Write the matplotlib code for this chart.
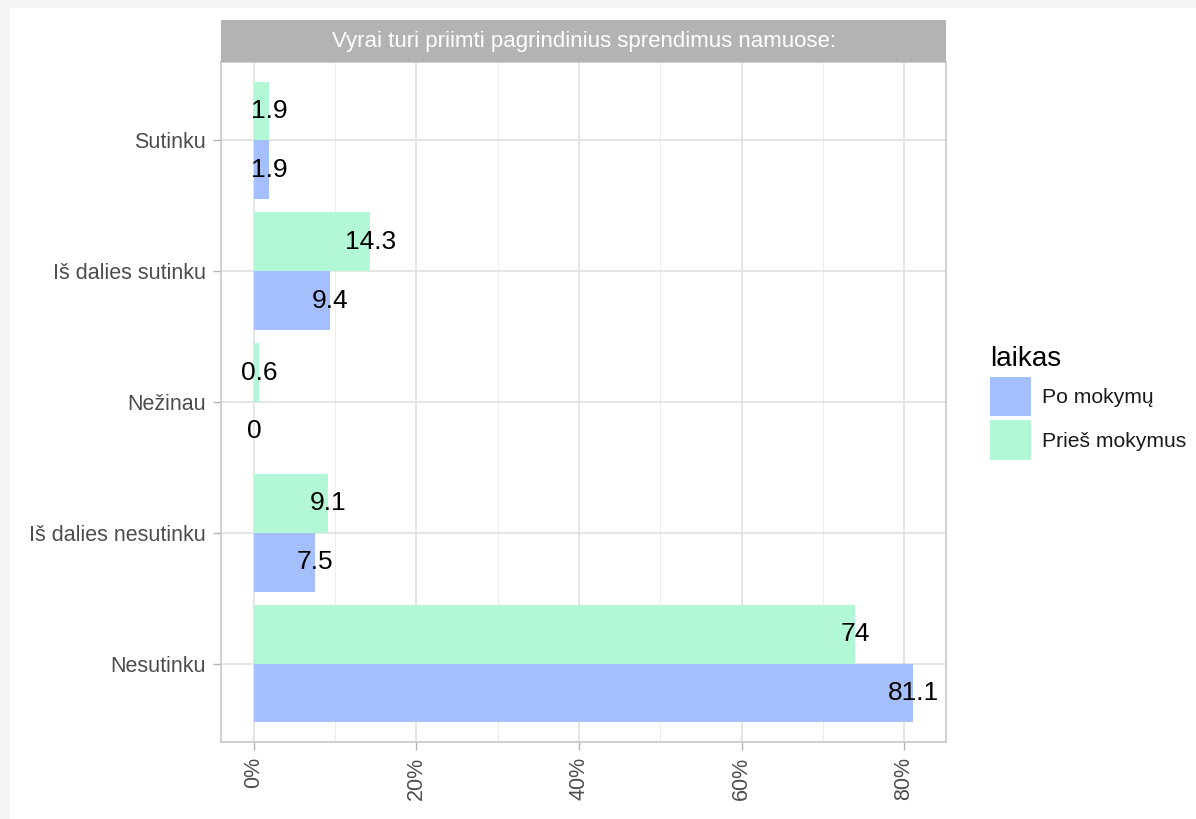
import matplotlib.pyplot as plt
from matplotlib.patches import Rectangle

# categories from bottom to top
categories = ['Nesutinku', 'Iš dalies nesutinku', 'Nežinau', 'Iš dalies sutinku', 'Sutinku']
po_mokymu = [81.1, 7.5, 0, 9.4, 1.9]
pries_mokymus = [74, 9.1, 0.6, 14.3, 1.9]
series_names = ['Po mokymų', 'Prieš mokymus']
x_ticks = [0, 20, 40, 60, 80]
x_tick_labels = ['0%', '20%', '40%', '60%', '80%']
strip_title = 'Vyrai turi priimti pagrindinius sprendimus namuose:'
legend_title = 'laikas'

plt.rcParams['font.family'] = ['Liberation Sans', 'DejaVu Sans']

W, H = 1196, 819
fig = plt.figure(figsize=(W / 100, H / 100), dpi=100)
fig.patch.set_facecolor('white')

# screenshot-ish light gray border at top/left
fig.patches.append(Rectangle((0, 1 - 8 / H), 1, 8 / H, transform=fig.transFigure,
                             facecolor='#f5f5f5', edgecolor='none', zorder=0))
fig.patches.append(Rectangle((0, 0), 10 / W, 1, transform=fig.transFigure,
                             facecolor='#f5f5f5', edgecolor='none', zorder=0))

left, right, top, bottom = 221, 946, 62, 742
ax = fig.add_axes([left / W, (H - bottom) / H, (right - left) / W, (bottom - top) / H])

blue = '#a4bffb'
green = '#b2f8d7'
bw = 0.45
ypos = list(range(1, len(categories) + 1))

ax.barh([y - bw / 2 for y in ypos], po_mokymu, height=bw, color=blue, zorder=2, label=series_names[0])
ax.barh([y + bw / 2 for y in ypos], pries_mokymus, height=bw, color=green, zorder=2, label=series_names[1])

for y, v in zip(ypos, po_mokymu):
    ax.text(v, y - bw / 2, f'{v:g}', ha='center', va='center', fontsize=19, color='black', zorder=3)
for y, v in zip(ypos, pries_mokymus):
    ax.text(v, y + bw / 2, f'{v:g}', ha='center', va='center', fontsize=19, color='black', zorder=3)

xmax = max(max(po_mokymu), max(pries_mokymus))
ax.set_xlim(-0.05 * xmax, 1.05 * xmax)
ax.set_ylim(0.4, len(categories) + 0.6)

ax.set_yticks(ypos)
ax.set_yticklabels(categories, fontsize=15.5, color='#4d4d4d')
ax.set_xticks(x_ticks)
ax.set_xticklabels(x_tick_labels, fontsize=15.5, color='#4d4d4d', rotation=90)
ax.set_xticks([10, 30, 50, 70], minor=True)

ax.grid(True, which='major', color='#dedede', linewidth=1.1, zorder=0)
ax.grid(True, which='minor', axis='x', color='#ececec', linewidth=0.7, zorder=0)
ax.set_axisbelow(True)
ax.tick_params(axis='both', which='major', color='#b3b3b3', length=6, width=1, pad=5)
ax.tick_params(axis='x', which='minor', length=0)
for s in ax.spines.values():
    s.set_color('#c8c8c8')
    s.set_linewidth(1.2)

# facet strip
sax = fig.add_axes([left / W, (H - top) / H, (right - left) / W, (top - 20) / H])
sax.set_facecolor('#b3b3b3')
sax.set_xticks([])
sax.set_yticks([])
for s in sax.spines.values():
    s.set_visible(False)
sax.text(0.5, 0.5, strip_title, ha='center', va='center', color='white', fontsize=16,
         transform=sax.transAxes)

# legend
leg = ax.legend(title=legend_title, loc='upper left', bbox_to_anchor=(982 / W, (H - 338) / H),
                bbox_transform=fig.transFigure, frameon=False, fontsize=15.2,
                title_fontsize=20, handlelength=1.9, handleheight=2.5,
                handletextpad=0.55, labelspacing=0.2, borderaxespad=0)
leg._legend_box.align = 'left'
for t in leg.get_texts():
    t.set_color('#1a1a1a')

fig.savefig('out.png', dpi=100)
